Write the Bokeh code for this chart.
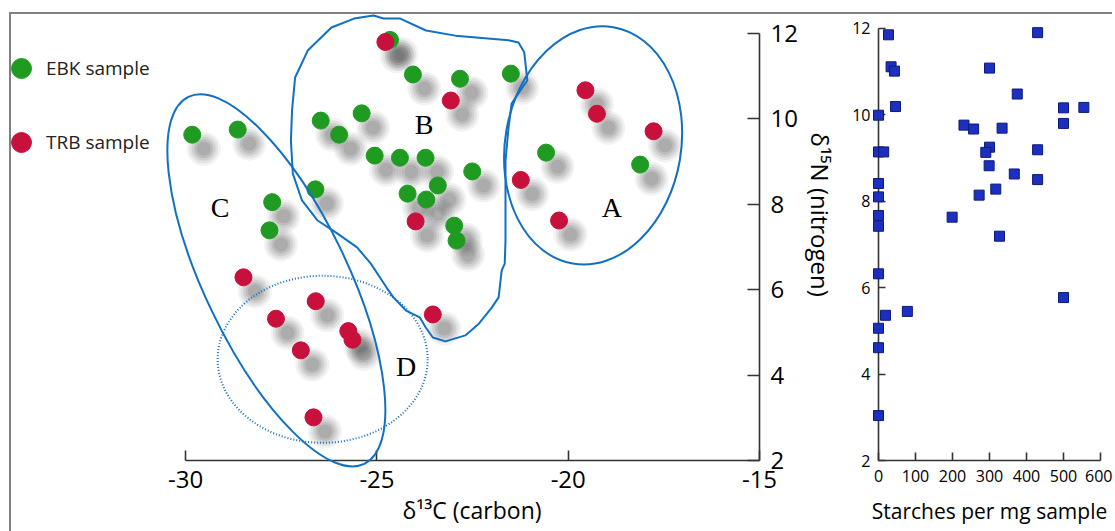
from bokeh.plotting import figure
from bokeh.layouts import row
from bokeh.models import Legend, LegendItem, FixedTicker, Title, ColumnDataSource
from bokeh.transform import dodge
from bokeh.core.properties import value
from bokeh.embed import file_html
from bokeh.resources import INLINE

# ---------------- data ----------------
# EBK samples (green): delta13C, delta15N
ebk_c = [-29.83, -28.64, -26.47, -25.99, -25.40, -24.06, -24.66, -25.06, -24.40, -23.73,
         -23.41, -26.61, -27.74, -27.81, -24.20, -23.71, -22.83, -21.50, -22.51, -22.98,
         -22.92, -20.58, -18.12]
ebk_n = [9.63, 9.75, 9.96, 9.63, 10.13, 11.04, 11.85, 9.14, 9.09, 9.09,
         8.44, 8.35, 8.05, 7.39, 8.25, 8.11, 10.94, 11.06, 8.77, 7.50,
         7.15, 9.21, 8.93]
# TRB samples (red)
trb_c = [-24.78, -23.07, -23.99, -19.55, -19.25, -17.77, -21.24, -20.24, -28.49, -26.60,
         -27.64, -25.75, -25.64, -26.99, -26.66, -23.54]
trb_n = [11.80, 10.43, 7.60, 10.67, 10.12, 9.71, 8.57, 7.62, 6.29, 5.73,
         5.32, 5.03, 4.83, 4.58, 3.01, 5.42]

# Starches per mg sample vs delta15N
starch = [27, 34, 43, 46, 0, 0, 14, 0, 0, 0, 0, 430, 300, 375, 500, 555, 500, 231, 257, 334,
          300, 290, 430, 299, 367, 430, 317, 272, 199, 327, 0, 500, 78, 19, 0, 0, 0]
starch_n = [11.85, 11.11, 11.01, 10.19, 9.99, 9.14, 9.14, 8.41, 8.10, 7.67, 7.42, 11.90, 11.08,
            10.48, 10.16, 10.17, 9.80, 9.76, 9.67, 9.69, 9.25, 9.13, 9.19, 8.82, 8.63, 8.50,
            8.28, 8.14, 7.63, 7.19, 6.32, 5.77, 5.45, 5.36, 5.06, 4.61, 3.04]

# cluster outlines
cluster_names = ["A", "B", "C", "D"]
cluster_label_c = [-18.86, -23.77, -29.10, -24.24]
cluster_label_n = [7.93, 9.87, 7.93, 4.20]

# ellipses A, C (solid) and D (dotted): centre in data, size in screen px
ell_c = [-19.35, -27.63]
ell_n = [9.38, 6.22]
ell_w = [176, 407]
ell_h = [240, 143]
ell_angle = [-0.17, -1.124]
ellD_c = [-26.42]
ellD_n = [4.37]
ellD_w = [210]
ellD_h = [167]

# hand-drawn outline of cluster B
blob_c = [-26.19, -25.60, -25.09, -24.83, -24.39, -23.72, -22.95, -21.56, -21.30, -21.15,
          -21.07, -21.30, -21.48, -21.56, -21.64, -21.64, -21.64, -21.66, -21.74, -21.79,
          -21.82, -22.00, -22.33, -22.69, -23.21, -23.54, -23.72, -23.88, -24.24, -24.57,
          -24.75, -25.16, -25.52, -26.04, -26.55, -26.96, -27.20, -27.25, -27.22, -27.14,
          -26.81]
blob_n = [12.14, 12.35, 12.42, 12.35, 12.35, 12.07, 11.95, 11.84, 11.79, 11.56,
          10.90, 10.60, 10.36, 9.80, 9.03, 8.09, 7.15, 6.61, 6.45, 6.05,
          5.82, 5.58, 5.21, 4.93, 4.79, 4.88, 5.11, 5.35, 5.51, 5.82,
          6.05, 6.61, 6.99, 7.32, 7.62, 8.09, 8.72, 9.49, 10.20, 10.97,
          11.60]

x_ticks = [-30, -25, -20, -15]
x_tick_labels = ["-30", "-25", "-20", "-15"]
y_ticks = [2, 4, 6, 8, 10, 12]
s_ticks = [0, 100, 200, 300, 400, 500, 600]

FONT = "Open Sans"
GREEN = "#1f9b22"
RED = "#c8103c"
BLUE_LINE = "#1170c2"
AXIS = "#333333"

# ---------------- left figure ----------------
p = figure(width=830, height=517, x_range=(-34.554, -15), y_range=(2, 12.445),
           y_axis_location="right", output_backend="svg", toolbar_location=None,
           min_border_left=0, min_border_top=0, min_border_right=70, min_border_bottom=71)
p.outline_line_color = None
p.grid.visible = False
p.background_fill_color = "white"
p.border_fill_color = "white"

pts = ColumnDataSource(dict(x=ebk_c + trb_c, y=ebk_n + trb_n))
for sz, al in [(34, 0.07), (29, 0.09), (24, 0.11), (19, 0.13), (14, 0.13)]:
    p.scatter(x=dodge("x", 0.30, range=p.x_range), y=dodge("y", -0.33, range=p.y_range),
              source=pts, size=sz, marker="circle", fill_color="#404040", fill_alpha=al,
              line_color=None)

g = p.scatter(ebk_c, ebk_n, size=17, marker="circle", fill_color=GREEN, line_color=GREEN)
r = p.scatter(trb_c, trb_n, size=17, marker="circle", fill_color=RED, line_color=RED)

p.ellipse(x=ell_c, y=ell_n, width=ell_w, height=ell_h, angle=ell_angle,
          width_units="screen", height_units="screen", fill_color=None,
          line_color=BLUE_LINE, line_width=2, level="overlay")
p.ellipse(x=ellD_c, y=ellD_n, width=ellD_w, height=ellD_h,
          width_units="screen", height_units="screen", fill_color=None,
          line_color=BLUE_LINE, line_width=2, line_dash="1 2", level="overlay")
p.patch(blob_c, blob_n, fill_color=None, line_color=BLUE_LINE, line_width=2, level="overlay")

p.text(x=cluster_label_c, y=cluster_label_n, text=cluster_names,
       text_font=value("Liberation Serif"), text_font_size="28px",
       text_align="center", text_baseline="middle", text_color="black")

xa = p.xaxis[0]
xa.ticker = FixedTicker(ticks=x_ticks)
xa.major_label_overrides = dict(zip(x_ticks, x_tick_labels))
xa.bounds = (-30, -15)
xa.major_tick_in = 10
xa.major_tick_out = 0
xa.minor_tick_line_color = None
xa.axis_line_color = AXIS
xa.axis_line_width = 1.6
xa.major_tick_line_color = AXIS
xa.major_tick_line_width = 1.6
xa.major_label_standoff = 10
xa.major_label_text_font = FONT
xa.major_label_text_font_size = "24px"
xa.major_label_text_color = "black"

ya = p.yaxis[0]
ya.ticker = FixedTicker(ticks=y_ticks)
ya.bounds = (2, 12)
ya.major_tick_in = 12
ya.major_tick_out = 0
ya.minor_tick_line_color = None
ya.axis_line_color = AXIS
ya.axis_line_width = 1.6
ya.major_tick_line_color = AXIS
ya.major_tick_line_width = 1.6
ya.major_label_standoff = 11
ya.major_label_text_font = FONT
ya.major_label_text_font_size = "24px"
ya.major_label_text_color = "black"

p.add_layout(Title(text="δ¹⁵N (nitrogen)", align="left", offset=118, standoff=6,
                   text_font=FONT, text_font_size="24px", text_font_style="normal",
                   text_color="black"), "right")
p.add_layout(Title(text="δ¹³C (carbon)", align="left", offset=391, standoff=2,
                   text_font=FONT, text_font_size="23px", text_font_style="normal",
                   text_color="black"), "below")

legend = Legend(items=[LegendItem(label="EBK sample", renderers=[g]),
                       LegendItem(label="TRB sample", renderers=[r])],
                location=(-15, 293), glyph_width=50, glyph_height=50, spacing=24,
                padding=0, margin=0, label_standoff=-8, border_line_color=None,
                background_fill_alpha=0, label_text_font=FONT, label_text_font_size="19px",
                label_text_color="#222222")
p.add_layout(legend)

# ---------------- right figure ----------------
q = figure(width=271, height=517, x_range=(0, 600), y_range=(2, 12.32),
           output_backend="svg", toolbar_location=None,
           min_border_left=37, min_border_top=0, min_border_right=12, min_border_bottom=69)
q.outline_line_color = None
q.grid.visible = False
q.scatter(starch, starch_n, marker="square", size=10, fill_color="#1d2fbf",
          line_color="#0b1a7a", line_width=1, level="overlay")

qx = q.xaxis[0]
qx.ticker = FixedTicker(ticks=s_ticks)
qx.major_tick_in = 8
qx.major_tick_out = 0
qx.minor_tick_line_color = None
qx.axis_line_color = AXIS
qx.axis_line_width = 1.6
qx.major_tick_line_color = AXIS
qx.major_tick_line_width = 1.6
qx.major_label_standoff = 9
qx.major_label_text_font = FONT
qx.major_label_text_font_size = "16px"
qx.major_label_text_color = "black"
qx.axis_label = "Starches per mg sample"
qx.axis_label_text_font = FONT
qx.axis_label_text_font_size = "21px"
qx.axis_label_text_font_style = "normal"
qx.axis_label_text_color = "black"
qx.axis_label_standoff = 12

qy = q.yaxis[0]
qy.ticker = FixedTicker(ticks=y_ticks)
qy.bounds = (2, 12)
qy.major_tick_in = 7
qy.major_tick_out = 0
qy.minor_tick_line_color = None
qy.axis_line_color = AXIS
qy.axis_line_width = 1.6
qy.major_tick_line_color = AXIS
qy.major_tick_line_width = 1.6
qy.major_label_standoff = 8
qy.major_label_text_font = FONT
qy.major_label_text_font_size = "16px"
qy.major_label_text_color = "black"

layout = row(p, q)
layout.styles = {"border-top": "2px solid #808080", "border-left": "2px solid #808080",
                 "margin-left": "9px", "margin-top": "12px"}

open("out.html", "w").write(file_html(layout, INLINE))
